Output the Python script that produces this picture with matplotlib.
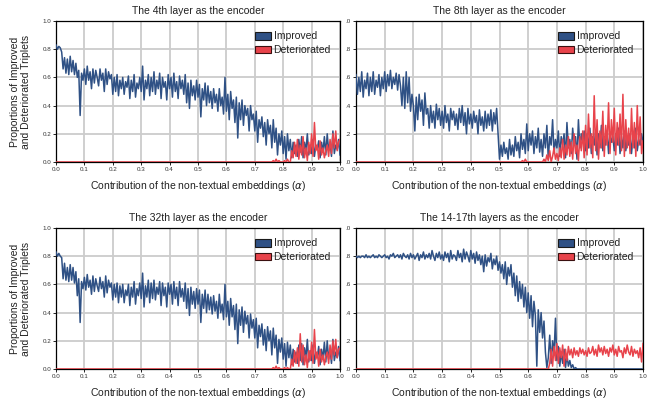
import numpy as np
import matplotlib
matplotlib.use("Agg")
import matplotlib.pyplot as plt
from matplotlib.patches import Patch

plt.rcParams['font.family'] = ['Liberation Sans', 'DejaVu Sans']
plt.rcParams['mathtext.fontset'] = 'dejavusans'

titles = ["The 4th layer as the encoder", "The 8th layer as the encoder",
          "The 32th layer as the encoder", "The 14-17th layers as the encoder"]
xlabel = "Contribution of the non-textual embeddings ($\\alpha$)"
ylabel = "Proportions of Improved\nand Deteriorated Triplets"
legend_labels = ["Improved", "Deteriorated"]
xtick_vals = [0.0, 0.1, 0.2, 0.3, 0.4, 0.5, 0.6, 0.7, 0.8, 0.9, 1.0]
xtick_labels = ["0.0", "0.1", "0.2", "0.3", "0.4", "0.5", "0.6", "0.7", "0.8", "0.9", "1.0"]
ytick_vals = [0.0, 0.2, 0.4, 0.6, 0.8, 1.0]
ytick_labels_left = ["0.0", "0.2", "0.4", "0.6", "0.8", "1.0"]
ytick_labels_right = [".0", ".2", ".4", ".6", ".8", ".0"]

# alpha sampled every 0.005 from 0 to 1 (201 values)
improved_4th = [
    0.83, 0.80, 0.82, 0.81, 0.78, 0.66, 0.74, 0.63, 0.73, 0.62,
    0.75, 0.64, 0.72, 0.62, 0.70, 0.60, 0.65, 0.33, 0.63, 0.58,
    0.66, 0.55, 0.68, 0.58, 0.64, 0.52, 0.66, 0.56, 0.65, 0.60,
    0.54, 0.66, 0.58, 0.63, 0.50, 0.66, 0.55, 0.64, 0.59, 0.62,
    0.48, 0.60, 0.50, 0.62, 0.47, 0.58, 0.52, 0.60, 0.48, 0.57,
    0.53, 0.61, 0.45, 0.58, 0.50, 0.62, 0.46, 0.56, 0.52, 0.60,
    0.50, 0.68, 0.44, 0.58, 0.52, 0.62, 0.47, 0.60, 0.50, 0.64,
    0.48, 0.58, 0.52, 0.63, 0.45, 0.60, 0.53, 0.57, 0.44, 0.62,
    0.52, 0.60, 0.46, 0.63, 0.50, 0.57, 0.45, 0.61, 0.52, 0.58,
    0.48, 0.62, 0.42, 0.56, 0.38, 0.58, 0.47, 0.54, 0.44, 0.58,
    0.46, 0.55, 0.32, 0.52, 0.44, 0.56, 0.40, 0.54, 0.42, 0.50,
    0.38, 0.52, 0.42, 0.48, 0.36, 0.52, 0.40, 0.46, 0.34, 0.60,
    0.36, 0.48, 0.30, 0.50, 0.38, 0.44, 0.28, 0.46, 0.17, 0.42,
    0.30, 0.44, 0.26, 0.40, 0.33, 0.38, 0.22, 0.40, 0.30, 0.34,
    0.22, 0.36, 0.14, 0.30, 0.24, 0.32, 0.18, 0.28, 0.12, 0.30,
    0.20, 0.26, 0.10, 0.30, 0.14, 0.24, 0.05, 0.20, 0.12, 0.22,
    0.06, 0.18, 0.02, 0.20, 0.08, 0.16, 0.03, 0.14, 0.06, 0.12,
    0.04, 0.16, 0.07, 0.18, 0.03, 0.14, 0.08, 0.20, 0.05, 0.12,
    0.06, 0.16, 0.04, 0.12, 0.09, 0.15, 0.03, 0.14, 0.07, 0.18,
    0.05, 0.20, 0.08, 0.14, 0.04, 0.22, 0.06, 0.12, 0.09, 0.16,
    0.05]
deteriorated_4th = [
    0, 0, 0, 0, 0, 0, 0, 0, 0, 0,
    0, 0, 0, 0, 0, 0, 0, 0, 0, 0,
    0, 0, 0, 0, 0, 0, 0, 0, 0, 0,
    0, 0, 0, 0, 0, 0, 0, 0, 0, 0,
    0, 0, 0, 0, 0, 0, 0, 0, 0, 0,
    0, 0, 0, 0, 0, 0, 0, 0, 0, 0,
    0, 0, 0, 0, 0, 0, 0, 0, 0, 0,
    0, 0, 0, 0, 0, 0, 0, 0, 0, 0,
    0, 0, 0, 0, 0, 0, 0, 0, 0, 0,
    0, 0, 0, 0, 0, 0, 0, 0, 0, 0,
    0, 0, 0, 0, 0, 0, 0, 0, 0, 0,
    0, 0, 0, 0, 0, 0, 0, 0, 0, 0,
    0, 0, 0, 0, 0, 0, 0, 0, 0, 0,
    0, 0, 0, 0, 0, 0, 0, 0, 0, 0,
    0, 0, 0, 0, 0, 0, 0, 0, 0, 0,
    0, 0, 0, 0.01, 0, 0.02, 0, 0.01, 0, 0,
    0, 0.01, 0, 0.02, 0, 0, 0.08, 0.03, 0.14, 0.04,
    0.16, 0.02, 0.12, 0.05, 0.18, 0.03, 0.10, 0.01, 0.14, 0.06,
    0.20, 0.04, 0.28, 0.08, 0.12, 0.02, 0.15, 0.05, 0.10, 0.03,
    0.08, 0.12, 0.04, 0.16, 0.06, 0.20, 0.10, 0.22, 0.08, 0.14,
    0.16]

improved_8th = [
    0.62, 0.48, 0.60, 0.50, 0.64, 0.46, 0.58, 0.52, 0.63, 0.47,
    0.60, 0.50, 0.64, 0.48, 0.58, 0.53, 0.62, 0.47, 0.60, 0.52,
    0.64, 0.50, 0.62, 0.54, 0.65, 0.52, 0.60, 0.55, 0.63, 0.51,
    0.62, 0.54, 0.40, 0.60, 0.38, 0.64, 0.42, 0.60, 0.36, 0.48,
    0.40, 0.22, 0.46, 0.30, 0.48, 0.36, 0.44, 0.26, 0.49, 0.34,
    0.38, 0.24, 0.40, 0.28, 0.36, 0.24, 0.41, 0.30, 0.38, 0.26,
    0.36, 0.24, 0.40, 0.28, 0.34, 0.22, 0.38, 0.30, 0.36, 0.26,
    0.34, 0.23, 0.38, 0.28, 0.40, 0.26, 0.35, 0.20, 0.38, 0.27,
    0.34, 0.24, 0.36, 0.28, 0.33, 0.20, 0.37, 0.26, 0.32, 0.22,
    0.36, 0.24, 0.34, 0.26, 0.37, 0.22, 0.35, 0.27, 0.38, 0.20,
    0.02, 0.12, 0.04, 0.14, 0.06, 0.10, 0.02, 0.16, 0.05, 0.12,
    0.04, 0.18, 0.08, 0.14, 0.03, 0.20, 0.09, 0.16, 0.06, 0.27,
    0.08, 0.20, 0.12, 0.22, 0.06, 0.18, 0.10, 0.24, 0.07, 0.16,
    0.04, 0.20, 0.10, 0.26, 0.02, 0.18, 0.12, 0.30, 0.06, 0.16,
    0.10, 0.22, 0.04, 0.18, 0.12, 0.20, 0.03, 0.28, 0.10, 0.16,
    0.06, 0.24, 0.12, 0.18, 0.02, 0.30, 0.10, 0.20, 0.14, 0.22,
    0.08, 0.20, 0.10, 0.24, 0.06, 0.18, 0.12, 0.22, 0.05, 0.20,
    0.10, 0.26, 0.08, 0.18, 0.12, 0.22, 0.06, 0.20, 0.14, 0.18,
    0.08, 0.20, 0.12, 0.24, 0.06, 0.18, 0.10, 0.22, 0.08, 0.16,
    0.12, 0.20, 0.06, 0.18, 0.10, 0.24, 0.08, 0.16, 0.12, 0.20,
    0.14]
deteriorated_8th = [
    0, 0, 0, 0, 0, 0, 0, 0, 0, 0,
    0, 0, 0, 0, 0, 0, 0, 0, 0, 0,
    0, 0, 0, 0, 0, 0, 0, 0, 0, 0,
    0, 0, 0, 0, 0, 0, 0, 0, 0, 0,
    0, 0, 0, 0, 0, 0, 0, 0, 0, 0,
    0, 0, 0, 0, 0, 0, 0, 0, 0, 0,
    0, 0, 0, 0, 0, 0, 0, 0, 0, 0,
    0, 0, 0, 0, 0, 0, 0, 0, 0, 0,
    0, 0, 0, 0, 0, 0, 0, 0, 0, 0,
    0, 0, 0, 0, 0, 0, 0, 0, 0, 0,
    0, 0, 0, 0, 0, 0, 0, 0, 0, 0,
    0, 0, 0, 0, 0, 0, 0.01, 0, 0.02, 0,
    0, 0, 0, 0, 0, 0, 0, 0, 0, 0,
    0, 0.02, 0, 0.05, 0.01, 0.08, 0, 0.04, 0.10, 0.02,
    0.06, 0.01, 0.10, 0.03, 0.16, 0.02, 0.12, 0.05, 0.18, 0.04,
    0.14, 0.02, 0.20, 0.06, 0.12, 0.01, 0.18, 0.08, 0.22, 0.03,
    0.26, 0.05, 0.34, 0.10, 0.20, 0.03, 0.47, 0.08, 0.30, 0.02,
    0.22, 0.10, 0.36, 0.04, 0.26, 0.12, 0.42, 0.06, 0.30, 0.14,
    0.38, 0.05, 0.28, 0.12, 0.34, 0.08, 0.48, 0.04, 0.30, 0.10,
    0.24, 0.06, 0.38, 0.10, 0.28, 0.04, 0.40, 0.12, 0.32, 0.06,
    0.15]

improved_32th = [
    0.83, 0.80, 0.82, 0.80, 0.79, 0.64, 0.75, 0.63, 0.72, 0.62,
    0.74, 0.63, 0.72, 0.61, 0.69, 0.52, 0.64, 0.33, 0.62, 0.57,
    0.65, 0.56, 0.67, 0.58, 0.63, 0.53, 0.66, 0.55, 0.64, 0.59,
    0.55, 0.65, 0.57, 0.62, 0.51, 0.66, 0.54, 0.63, 0.58, 0.61,
    0.49, 0.60, 0.51, 0.61, 0.47, 0.59, 0.51, 0.60, 0.47, 0.56,
    0.52, 0.60, 0.45, 0.58, 0.51, 0.62, 0.46, 0.57, 0.52, 0.61,
    0.50, 0.68, 0.44, 0.59, 0.51, 0.63, 0.47, 0.61, 0.50, 0.63,
    0.49, 0.58, 0.53, 0.62, 0.45, 0.61, 0.52, 0.58, 0.44, 0.61,
    0.53, 0.60, 0.46, 0.62, 0.50, 0.58, 0.45, 0.62, 0.51, 0.57,
    0.48, 0.61, 0.43, 0.57, 0.38, 0.58, 0.46, 0.55, 0.43, 0.57,
    0.46, 0.56, 0.33, 0.53, 0.43, 0.56, 0.40, 0.53, 0.42, 0.51,
    0.39, 0.52, 0.41, 0.48, 0.36, 0.53, 0.40, 0.46, 0.35, 0.60,
    0.37, 0.48, 0.31, 0.50, 0.37, 0.45, 0.28, 0.46, 0.18, 0.42,
    0.31, 0.44, 0.26, 0.41, 0.32, 0.38, 0.22, 0.39, 0.29, 0.35,
    0.22, 0.36, 0.15, 0.31, 0.23, 0.32, 0.17, 0.28, 0.13, 0.30,
    0.20, 0.27, 0.10, 0.29, 0.15, 0.24, 0.04, 0.21, 0.12, 0.22,
    0.07, 0.18, 0.02, 0.19, 0.08, 0.17, 0.03, 0.14, 0.05, 0.12,
    0.04, 0.17, 0.06, 0.18, 0.03, 0.15, 0.08, 0.21, 0.05, 0.13,
    0.06, 0.17, 0.04, 0.12, 0.08, 0.16, 0.03, 0.14, 0.07, 0.19,
    0.05, 0.20, 0.07, 0.14, 0.04, 0.21, 0.06, 0.12, 0.08, 0.16,
    0.06]
deteriorated_32th = [
    0, 0, 0, 0, 0, 0, 0, 0, 0, 0,
    0, 0, 0, 0, 0, 0, 0, 0, 0, 0,
    0, 0, 0, 0, 0, 0, 0, 0, 0, 0,
    0, 0, 0, 0, 0, 0, 0, 0, 0, 0,
    0, 0, 0, 0, 0, 0, 0, 0, 0, 0,
    0, 0, 0, 0, 0, 0, 0, 0, 0, 0,
    0, 0, 0, 0, 0, 0, 0, 0, 0, 0,
    0, 0, 0, 0, 0, 0, 0, 0, 0, 0,
    0, 0, 0, 0, 0, 0, 0, 0, 0, 0,
    0, 0, 0, 0, 0, 0, 0, 0, 0, 0,
    0, 0, 0, 0, 0, 0, 0, 0, 0, 0,
    0, 0, 0, 0, 0, 0, 0, 0, 0, 0,
    0, 0, 0, 0, 0, 0, 0, 0, 0, 0,
    0, 0, 0, 0, 0, 0, 0, 0, 0, 0,
    0, 0, 0, 0, 0, 0, 0, 0, 0, 0,
    0, 0, 0, 0.01, 0, 0.02, 0, 0.01, 0, 0,
    0, 0.01, 0, 0.01, 0, 0, 0.07, 0.02, 0.13, 0.04,
    0.15, 0.02, 0.25, 0.05, 0.17, 0.03, 0.10, 0.01, 0.13, 0.06,
    0.19, 0.04, 0.28, 0.07, 0.12, 0.02, 0.14, 0.05, 0.10, 0.03,
    0.09, 0.12, 0.04, 0.17, 0.07, 0.20, 0.10, 0.21, 0.08, 0.14,
    0.15]

improved_14_17 = [
    0.80, 0.79, 0.80, 0.79, 0.80, 0.80, 0.79, 0.81, 0.79, 0.80,
    0.79, 0.80, 0.81, 0.79, 0.80, 0.79, 0.81, 0.80, 0.79, 0.80,
    0.81, 0.79, 0.80, 0.78, 0.81, 0.80, 0.82, 0.79, 0.80, 0.81,
    0.79, 0.81, 0.78, 0.82, 0.80, 0.79, 0.81, 0.78, 0.82, 0.79,
    0.81, 0.78, 0.80, 0.82, 0.77, 0.81, 0.79, 0.83, 0.78, 0.81,
    0.79, 0.82, 0.78, 0.84, 0.80, 0.77, 0.82, 0.79, 0.83, 0.78,
    0.81, 0.77, 0.83, 0.79, 0.82, 0.76, 0.84, 0.78, 0.81, 0.80,
    0.77, 0.84, 0.79, 0.82, 0.76, 0.85, 0.78, 0.83, 0.80, 0.76,
    0.84, 0.78, 0.82, 0.75, 0.83, 0.77, 0.81, 0.74, 0.80, 0.69,
    0.81, 0.73, 0.79, 0.76, 0.82, 0.71, 0.78, 0.74, 0.80, 0.70,
    0.76, 0.68, 0.74, 0.64, 0.76, 0.60, 0.72, 0.66, 0.74, 0.58,
    0.68, 0.52, 0.66, 0.48, 0.62, 0.50, 0.60, 0.44, 0.58, 0.40,
    0.54, 0.36, 0.52, 0.30, 0.48, 0.38, 0.02, 0.42, 0.26, 0.40,
    0.22, 0.34, 0.12, 0.01, 0.08, 0.24, 0.04, 0.20, 0.10, 0.36,
    0.06, 0.16, 0.02, 0.12, 0.04, 0.14, 0.01, 0.10, 0.02, 0.06,
    0.01, 0.03, 0.00, 0.01, 0.00, 0.00, 0.00, 0.00, 0.00, 0.00,
    0, 0, 0, 0, 0, 0, 0, 0, 0, 0,
    0, 0, 0, 0, 0, 0, 0, 0, 0, 0,
    0, 0, 0, 0, 0, 0, 0, 0, 0, 0,
    0, 0, 0, 0, 0, 0, 0, 0, 0, 0,
    0]
deteriorated_14_17 = [
    0, 0, 0, 0, 0, 0, 0, 0, 0, 0,
    0, 0, 0, 0, 0, 0, 0, 0, 0, 0,
    0, 0, 0, 0, 0, 0, 0, 0, 0, 0,
    0, 0, 0, 0, 0, 0, 0, 0, 0, 0,
    0, 0, 0, 0, 0, 0, 0, 0, 0, 0,
    0, 0, 0, 0, 0, 0, 0, 0, 0, 0,
    0, 0, 0, 0, 0, 0, 0, 0, 0, 0,
    0, 0, 0, 0, 0, 0, 0, 0, 0, 0,
    0, 0, 0, 0, 0, 0, 0, 0, 0, 0,
    0, 0, 0, 0, 0, 0, 0, 0, 0, 0,
    0, 0, 0, 0, 0, 0, 0, 0, 0, 0,
    0, 0, 0, 0, 0, 0, 0, 0, 0, 0,
    0, 0, 0, 0, 0, 0, 0, 0, 0, 0,
    0, 0, 0, 0, 0, 0.04, 0.14, 0.02, 0.16, 0.06,
    0.18, 0.04, 0.15, 0.08, 0.17, 0.02, 0.14, 0.06, 0.16, 0.10,
    0.14, 0.08, 0.15, 0.10, 0.13, 0.09, 0.15, 0.11, 0.14, 0.10,
    0.13, 0.09, 0.15, 0.11, 0.12, 0.16, 0.10, 0.14, 0.09, 0.17,
    0.12, 0.15, 0.10, 0.16, 0.11, 0.14, 0.09, 0.15, 0.12, 0.17,
    0.10, 0.14, 0.09, 0.16, 0.12, 0.13, 0.08, 0.15, 0.11, 0.17,
    0.12, 0.10, 0.16, 0.09, 0.14, 0.11, 0.13, 0.08, 0.15, 0.05,
    0.18]

series = [(improved_4th, deteriorated_4th), (improved_8th, deteriorated_8th),
          (improved_32th, deteriorated_32th), (improved_14_17, deteriorated_14_17)]

BLUE = '#2f5185'
RED = '#e8434b'

W, H = 666, 399
fig = plt.figure(figsize=(W / 100, H / 100), dpi=100)

# axes boxes in pixels: left, top, right, bottom
boxes = [(56, 21, 340, 162), (356, 21, 643, 162),
         (56, 228, 340, 369), (356, 228, 643, 369)]

for i, (box, (imp, det)) in enumerate(zip(boxes, series)):
    l, t, r, b = box
    ax = fig.add_axes([l / W, 1 - b / H, (r - l) / W, (b - t) / H])
    x = np.linspace(0, 1, len(imp))
    ax.plot(x, imp, color=BLUE, lw=1.1, zorder=3)
    ax.plot(x, det, color=RED, lw=1.1, zorder=4)
    ax.set_xlim(0, 1)
    ax.set_ylim(0, 1)
    ax.set_xticks(xtick_vals)
    ax.set_xticklabels(xtick_labels)
    ax.set_yticks(ytick_vals)
    ax.set_yticklabels(ytick_labels_left if i % 2 == 0 else ytick_labels_right)
    ax.tick_params(labelsize=4.5, length=2, width=0.6, pad=1.5, labelcolor='#333333')
    ax.grid(True, color='#cccccc', lw=1.3, zorder=0)
    ax.set_axisbelow(True)
    for s in ax.spines.values():
        s.set_color('black')
        s.set_linewidth(0.9)
    ax.set_title(titles[i], fontsize=7.5, pad=5, color='#222222')
    ax.set_xlabel(xlabel, fontsize=7.5, labelpad=5, color='#222222')
    if i % 2 == 0:
        ax.set_ylabel(ylabel, fontsize=7.5, labelpad=8, color='#222222')
    handles = [Patch(facecolor=BLUE, edgecolor='#1a1a1a', lw=0.8),
               Patch(facecolor=RED, edgecolor='#3a1010', lw=0.8)]
    ax.legend(handles, legend_labels, loc='upper right', bbox_to_anchor=(0.99, 0.97),
              frameon=False, fontsize=7.5, handlelength=1.6, handleheight=0.75,
              handletextpad=0.2, labelspacing=0.35, borderaxespad=0.2,
              labelcolor='#222222')

fig.savefig('out.png', dpi=100)
